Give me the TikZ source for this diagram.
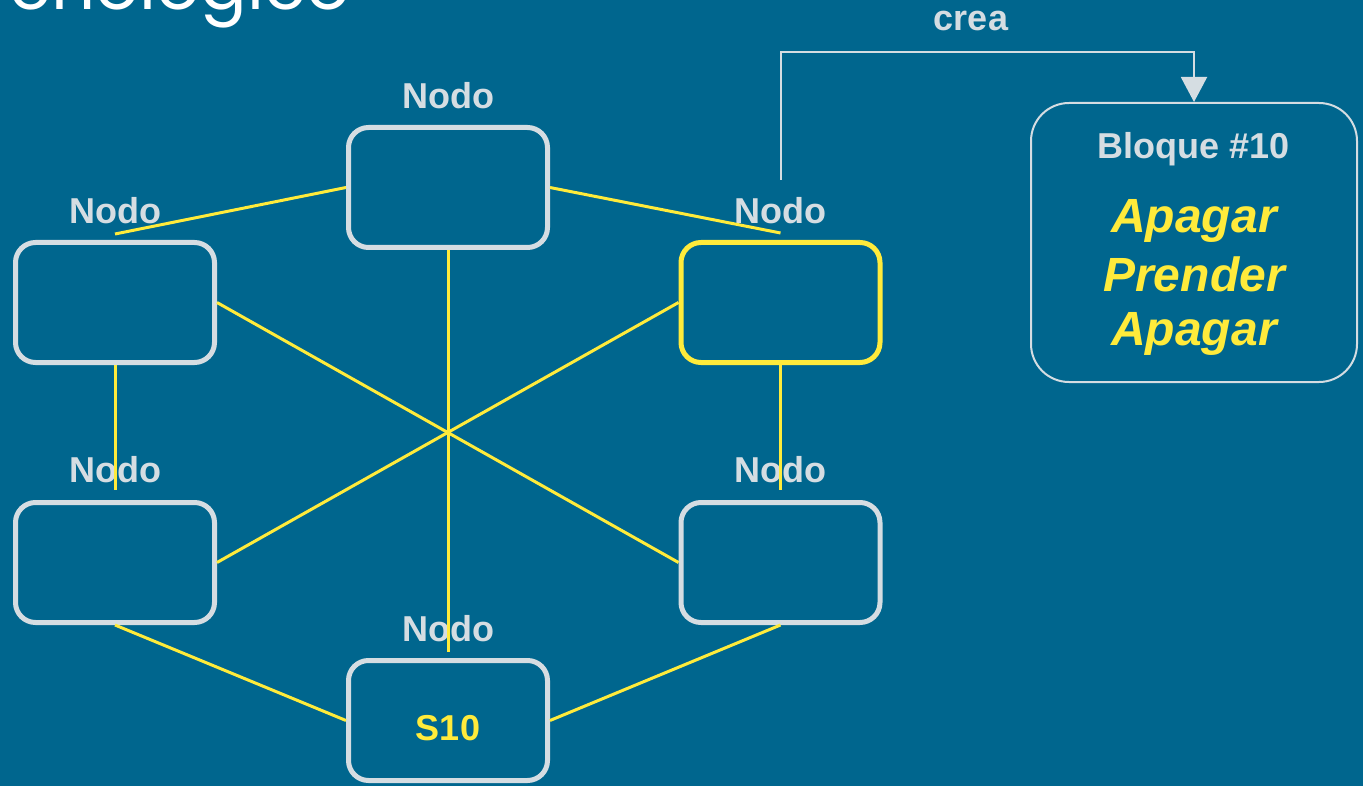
\documentclass[tikz,border=0pt]{standalone}
\usepackage{fontspec}
\setmainfont{Liberation Sans}
\newfontfamily\titlefont{Poppins}
\usetikzlibrary{arrows.meta,calc}
\definecolor{bgblue}{RGB}{0,102,142}
\definecolor{lgray}{RGB}{213,221,226}
\definecolor{yel}{RGB}{255,235,59}
\tikzset{
  nodebox/.style={draw=lgray,line width=5pt,rounded corners=20pt,minimum width=199pt,minimum height=120pt,inner sep=0pt,fill=bgblue},
  hotbox/.style={nodebox,draw=yel},
  nlabel/.style={anchor=base,text=lgray,font=\bfseries\fontsize{36}{40}\selectfont,inner sep=0pt},
  link/.style={draw=yel,line width=3pt},
  flow/.style={draw=lgray,line width=2pt,-{Triangle[width=26pt,length=25pt]}},
  actxt/.style={anchor=base,text=yel,font=\bfseries\itshape\fontsize{48}{56}\selectfont,inner sep=0pt},
}
\begin{document}
\begin{tikzpicture}[x=1pt,y=-1pt]
\useasboundingbox (0,0) rectangle (1363,786);
\clip (0,0) rectangle (1363,786);
\fill[bgblue] (0,0) rectangle (1363,786);
\node[anchor=base west,text=white,font=\titlefont\fontsize{69}{76}\selectfont,inner sep=0pt] (title) at (9,10) {cnológico};
% labels
\node[nlabel] (lt) at (448,108.5) {Nodo};
\node[nlabel] (lul) at (115,223.5) {Nodo};
\node[nlabel] (lur) at (780,223.5) {Nodo};
\node[nlabel] (lll) at (115,482.5) {Nodo};
\node[nlabel] (llr) at (780,482.5) {Nodo};
\node[nlabel] (lb) at (448,641.5) {Nodo};
% boxes
\node[nodebox] (top) at (448,187.5) {};
\node[nodebox] (ul) at (115,302.5) {};
\node[hotbox] (ur) at (780.5,302.5) {};
\node[nodebox] (ll) at (115,562.5) {};
\node[nodebox] (lr) at (780.5,562.5) {};
\node[nodebox] (bot) at (448,720.5) {};
\node[nlabel,text=yel] (s10) at (448,740) {S10};
% links
\draw[link] (top.west) -- ([yshift=6pt]ul.north);
\draw[link] (top.east) -- ([yshift=7pt]ur.north);
\draw[link] (top.south) -- ([yshift=6pt]bot.north);
\draw[link] (ul.east) -- (lr.west);
\draw[link] (ur.west) -- (ll.east);
\draw[link] (ul.south) -- ([yshift=10pt]ll.north);
\draw[link] (ur.south) -- ([yshift=10pt]lr.north);
\draw[link] (ll.south) -- (bot.west);
\draw[link] (lr.south) -- (bot.east);
% block
\node[draw=lgray,line width=2pt,rounded corners=38pt,minimum width=326pt,minimum height=279pt,inner sep=0pt] (blk) at (1194,242.5) {};
\node[nlabel] (bt) at (1194,158.5) {Bloque \#10};
\node[actxt] (a1) at (1194,232.5) {Apagar};
\node[actxt] (a2) at (1194,291.5) {Prender};
\node[actxt] (a3) at (1194,345.5) {Apagar};
% arrow
\coordinate (cstart) at (780.5,180);
\coordinate (bend) at (1194,52);
\draw[flow] (cstart) |- (bend) -- (blk.north);
\node[nlabel] (crea) at (971,31) {crea};
\end{tikzpicture}
\end{document}
